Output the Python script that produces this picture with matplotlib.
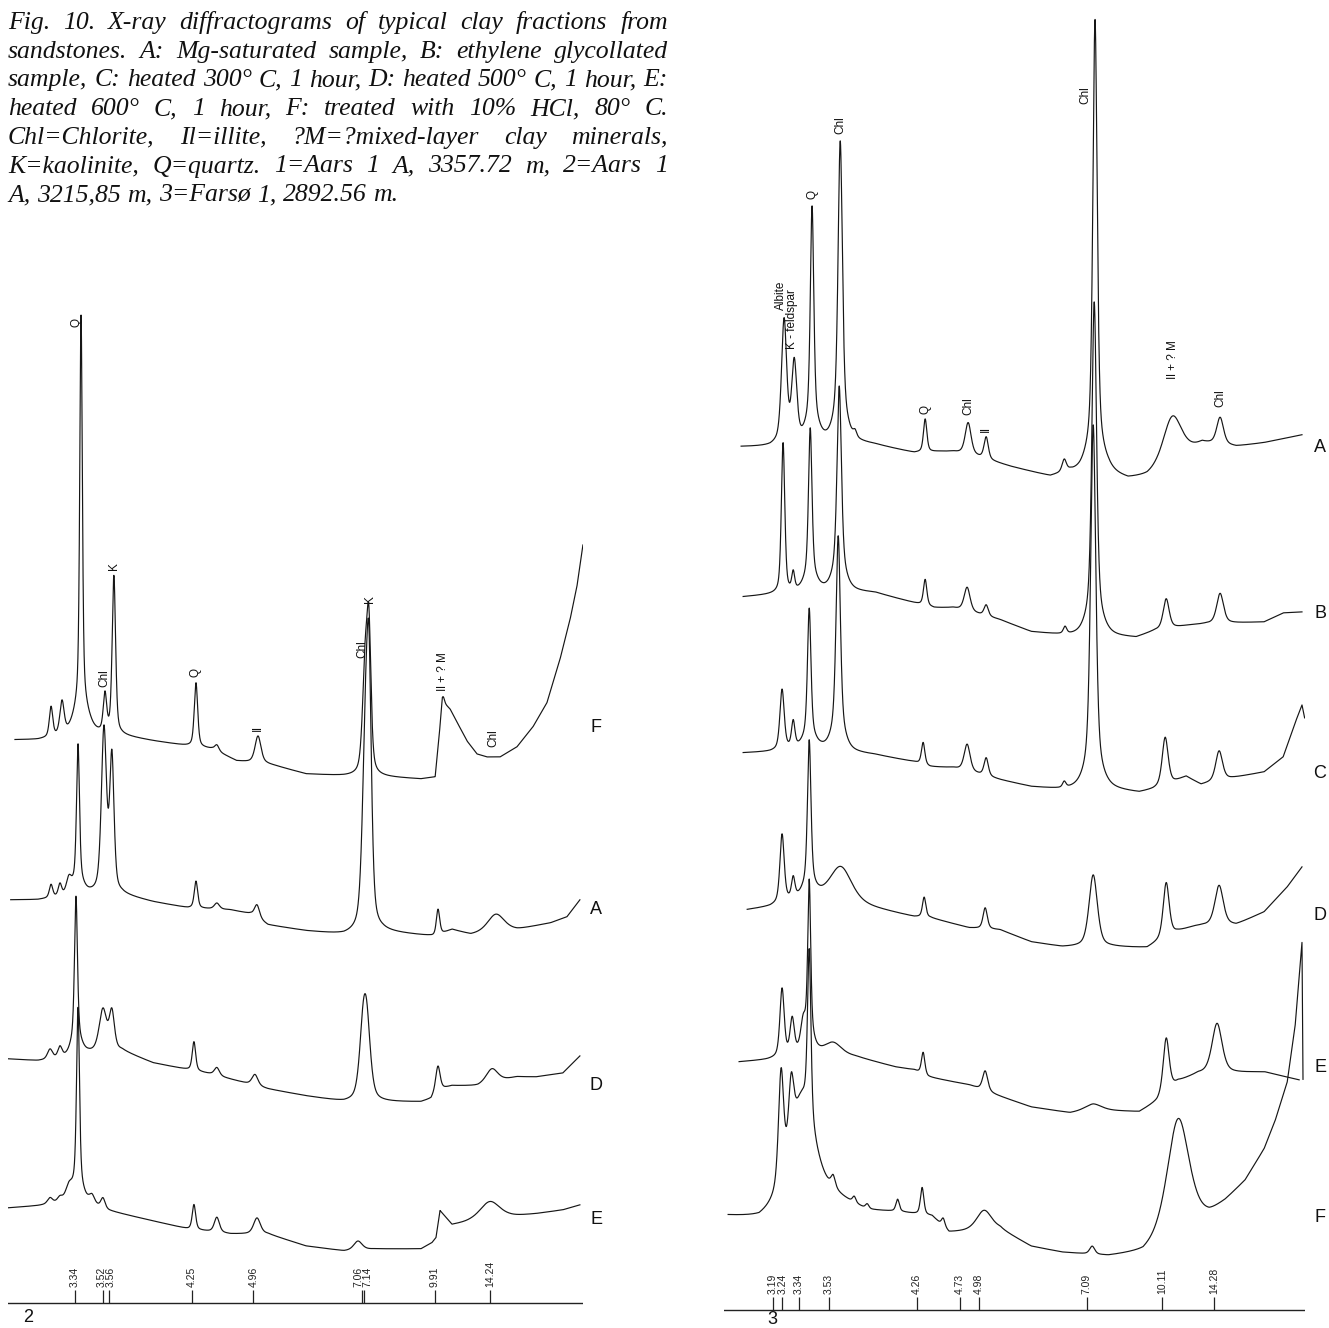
import numpy as np
import matplotlib.pyplot as plt

plt.rcParams['font.family'] = ['Liberation Sans', 'DejaVu Sans']

W, H = 1329, 1328
LAMBDA = 1.5406          # Cu K-alpha, Angstrom
PX_PER_DEG = 20.27       # chart scale of the recorder trace


def tth(d):
    return 2 * np.degrees(np.arcsin(LAMBDA / (2 * np.asarray(d))))


# ---------------- data (2-theta in degrees, intensities in chart units) ----------------
caption = [
    "Fig. 10. X-ray diffractograms of typical clay fractions from",
    "sandstones. A: Mg-saturated sample, B: ethylene glycollated",
    "sample, C: heated 300° C, 1 hour, D: heated 500° C, 1 hour, E:",
    "heated 600° C, 1 hour, F: treated with 10% HCl, 80° C.",
    "Chl=Chlorite, Il=illite, ?M=?mixed-layer clay minerals,",
    "K=kaolinite, Q=quartz. 1=Aars 1 A, 3357.72 m, 2=Aars 1",
    "A, 3215,85 m, 3=Farsø 1, 2892.56 m.",
]

ticks_2 = [3.34, 3.52, 3.56, 4.25, 4.96, 7.06, 7.14, 9.91, 14.24]
ticks_3 = [3.19, 3.24, 3.34, 3.53, 4.26, 4.73, 4.98, 7.09, 10.11, 14.28]

# sample 2 (Aars 1 A, 3215.85 m): scan range, background, peaks (pos, height, fwhm)
s2_F_range = (29.63, 1.61)
s2_F_bg = [(29.63, 0), (28.5, 0), (25.9, 5), (24.35, 4), (22.82, -1), (21.1, -6), (19.9, -9),
           (18.7, -21), (17.2, -24), (16.75, -26), (15.27, -34), (13.4, -36), (11.48, -37),
           (9.6, -39), (8.9, -37), (8.72, 0), (8.55, 38), (8.17, 31), (7.33, -1), (6.84, -14),
           (6.35, -17), (5.70, -17), (4.87, -7), (4.08, 13), (3.39, 37), (2.75, 80),
           (2.25, 120), (1.91, 153), (1.61, 195)]
s2_F_peaks = [(27.85, 30, 0.20), (27.31, 33, 0.25), (26.37, 385, 0.15), (26.37, 35, 0.79),
              (25.19, 38, 0.20), (24.75, 158, 0.20), (20.70, 64, 0.20), (19.67, 6, 0.25),
              (17.64, 27, 0.35), (12.36, 100, 0.30), (12.17, 135, 0.25), (8.50, 6, 0.15)]

s2_A_range = (29.84, 1.76)
s2_A_bg = [(29.84, 0), (28.5, 0), (25.9, 5), (24.35, 5), (22.82, -2), (21.1, -8), (19.0, -10),
           (18.0, -14), (17.15, -25), (15.27, -31), (13.4, -35), (11.48, -32), (9.21, -36),
           (8.9, -37), (8.07, -30), (7.14, -35), (4.87, -30), (3.2, -23), (2.4, -17), (1.76, 0)]
s2_A_peaks = [(27.85, 13, 0.20), (27.41, 12, 0.20), (26.97, 15, 0.30), (26.52, 135, 0.17),
              (26.52, 15, 0.59), (25.24, 163, 0.30), (24.85, 134, 0.25), (20.70, 27, 0.20),
              (19.67, 6, 0.30), (17.69, 13, 0.30), (12.36, 150, 0.35), (12.17, 240, 0.30),
              (8.76, 26, 0.20), (5.90, 18, 0.99)]

s2_D_range = (29.98, 1.76)
s2_D_bg = [(29.98, 0), (28.5, -2), (27.0, 0), (26.0, 5), (24.35, 8), (22.82, -4), (21.29, -10),
           (20.0, -15), (18.09, -25), (17.15, -30), (15.27, -37), (13.4, -43), (11.48, -43),
           (9.6, -43), (9.1, -40), (8.86, -32), (8.07, -27), (6.79, -27), (4.87, -18),
           (3.93, -18), (2.6, -14), (1.76, 3)]
s2_D_peaks = [(27.90, 10, 0.30), (27.41, 11, 0.25), (26.62, 140, 0.17), (26.62, 20, 0.59),
              (25.29, 42, 0.44), (24.85, 38, 0.30), (20.80, 29, 0.20), (19.67, 8, 0.30),
              (17.79, 11, 0.35), (12.45, 62, 0.44), (12.27, 62, 0.44), (8.76, 24, 0.25),
              (6.10, 14, 0.69)]

s2_E_range = (29.98, 1.76)
s2_E_bg = [(29.98, 0), (28.5, 2), (27.5, 4), (26.0, 4), (25.0, -3), (22.82, -13), (21.1, -21),
           (19.0, -26), (17.15, -26), (15.27, -38), (13.4, -43), (11.87, -41), (9.6, -41),
           (9.06, -35), (8.86, -30), (8.66, -3), (8.07, -17), (7.14, -14), (5.26, -9),
           (3.93, -6), (2.6, -2), (1.76, 3)]
s2_E_peaks = [(27.90, 6, 0.30), (27.41, 5, 0.30), (26.97, 14, 0.40), (26.52, 175, 0.17),
              (26.52, 20, 0.59), (25.83, 8, 0.30), (25.29, 10, 0.25), (20.80, 25, 0.20),
              (19.67, 15, 0.30), (17.69, 16, 0.40), (12.71, 9, 0.49), (6.20, 18, 1.18)]

# sample 3 (Farso 1, 2892.56 m)
s3_A_range = (29.52, 1.85)
s3_A_bg = [(29.52, 0), (28.09, 0), (27.84, 1), (26.3, 2), (25.47, 3), (24.24, 5), (22.91, 2),
           (20.98, -6), (19.85, -5), (19.06, -5), (17.9, -10), (16.20, -20), (14.27, -30),
           (13.29, -26), (12.8, -28), (11.41, -28), (10.43, -33), (9.49, -30), (8.9, -24),
           (6.78, 3), (5.10, 0), (3.72, 4), (1.85, 12)]
s3_A_peaks = [(27.40, 123, 0.30), (26.90, 79, 0.30), (26.02, 210, 0.20), (26.02, 25, 0.69),
              (24.63, 272, 0.25), (24.63, 28, 0.69), (23.90, 6, 0.20), (20.44, 33, 0.20),
              (18.32, 32, 0.35), (17.43, 22, 0.25), (13.58, 12, 0.25), (12.06, 425, 0.25),
              (12.06, 30, 0.99), (8.25, 46, 1.09), (5.89, 27, 0.40)]

s3_B_range = (29.42, 1.85)
s3_B_bg = [(29.42, 0), (28.09, 2), (27.2, 3), (25.52, 5), (24.04, 5), (22.91, 4), (20.98, -6),
           (20.0, -11), (19.06, -11), (16.74, -23), (15.21, -35), (13.88, -38), (12.8, -40),
           (11.41, -40), (10.03, -41), (9.10, -34), (7.57, -29), (6.63, -27), (5.10, -26),
           (3.72, -25), (2.78, -16), (1.85, -15)]
s3_B_peaks = [(27.45, 150, 0.20), (26.95, 18, 0.17), (26.11, 145, 0.20), (26.11, 18, 0.69),
              (24.68, 180, 0.25), (24.68, 25, 0.69), (20.44, 26, 0.20), (18.37, 24, 0.35),
              (17.43, 11, 0.25), (13.54, 7, 0.20), (12.10, 310, 0.27), (12.10, 25, 0.89),
              (8.55, 30, 0.35), (5.89, 30, 0.40)]

s3_C_range = (29.42, 1.72)
s3_C_bg = [(29.42, 0), (28.09, 1), (27.2, 3), (25.57, 3), (24.0, 0), (22.91, -2), (20.98, -9),
           (20.2, -14), (19.06, -15), (16.74, -27), (15.21, -34), (13.68, -37), (11.41, -37),
           (9.88, -40), (9.2, -37), (8.2, -30), (7.57, -24), (6.83, -32), (5.25, -25),
           (3.72, -19), (2.78, -4), (2.19, 30), (1.85, 48), (1.72, 35)]
s3_C_peaks = [(27.50, 60, 0.25), (26.95, 26, 0.20), (26.16, 125, 0.20), (26.16, 15, 0.69),
              (24.73, 190, 0.25), (24.73, 25, 0.69), (20.54, 22, 0.20), (18.37, 27, 0.35),
              (17.43, 18, 0.25), (13.58, 6, 0.20), (12.15, 340, 0.30), (12.15, 25, 0.89),
              (8.60, 48, 0.35), (5.94, 30, 0.40)]

s3_D_range = (29.22, 1.85)
s3_D_bg = [(29.22, 0), (28.09, 3), (27.2, 8), (26.5, 12), (25.67, 12), (23.3, 3), (20.98, -7),
           (20.19, -8), (18.27, -18), (16.74, -20), (15.21, -32), (13.68, -37), (11.22, -37),
           (9.49, -38), (8.0, -22), (7.2, -17), (6.83, -16), (5.10, -15), (3.72, -2),
           (2.58, 23), (1.85, 43)]
s3_D_peaks = [(27.50, 68, 0.25), (26.95, 20, 0.20), (26.16, 140, 0.20), (26.16, 15, 0.59),
              (24.60, 35, 1.28), (20.49, 20, 0.20), (17.48, 21, 0.25), (12.15, 72, 0.49),
              (8.55, 55, 0.35), (5.94, 40, 0.49)]

s3_E_range = (29.62, 1.99)
s3_E_bg = [(29.62, 0), (28.24, 2), (27.5, 4), (26.5, 8), (25.67, 8), (23.85, 5), (21.92, -5),
           (20.98, -8), (20.29, -15), (18.27, -23), (16.94, -33), (15.21, -45), (13.29, -51),
           (12.15, -48), (9.88, -50), (9.0, -40), (7.96, -20), (6.98, -12), (5.25, -11),
           (3.72, -10), (1.99, -18)]
s3_E_peaks = [(27.50, 68, 0.25), (27.00, 35, 0.25), (26.46, 25, 0.30), (26.16, 150, 0.17),
              (26.16, 20, 0.49), (24.98, 12, 0.99), (20.54, 22, 0.20), (17.48, 20, 0.30),
              (12.15, 6, 0.99), (8.55, 55, 0.35), (6.04, 50, 0.59)]

# the F scan ends with the pen dropping back at the low-angle limit
s3_F_range = (30.16, 1.80)
s3_F_bg = [(30.16, 0), (28.63, -3), (27.9, 3), (25.77, 10), (24.98, 18), (23.94, 10), (23.30, 5),
           (21.72, 4), (20.10, 0), (19.26, -16), (16.74, -13), (15.21, -30), (13.68, -36),
           (11.41, -40), (9.69, -37), (9.0, -28), (6.43, 0), (5.64, 14), (4.66, 35), (3.72, 67),
           (3.18, 95), (2.58, 134), (2.19, 190), (1.85, 274), (1.80, 137)]
s3_F_peaks = [(26.50, 110, 1.48), (27.55, 110, 0.30), (27.05, 60, 0.30), (26.16, 165, 0.20),
              (24.98, 10, 0.25), (23.94, 6, 0.20), (23.30, 5, 0.20), (21.80, 12, 0.20),
              (20.59, 27, 0.20), (19.55, 8, 0.20), (17.53, 20, 0.89), (12.20, 8, 0.30),
              (7.96, 115, 1.28)]

# mineral labels: (trace, text, label position, peak it belongs to, gap above peak)
labels_2 = [('F', 'Q', 26.60, 26.37, -12), ('F', 'Chl', 25.24, 25.19, 4), ('F', 'K', 24.75, 24.75, 5),
            ('F', 'Q', 20.70, 20.70, 6), ('F', 'Il', 17.64, 17.64, 5), ('F', 'Chl', 12.51, 12.17, -52),
            ('F', 'K', 12.12, 12.17, 3), ('F', 'Il + ? M', 8.52, 8.52, 6), ('F', 'Chl', 6.05, 6.05, 10)]
labels_3 = [('A', 'Albite', 27.55, 27.40, 8), ('A', 'K - feldspar', 27.00, 26.90, 8),
            ('A', 'Q', 26.02, 26.02, 7), ('A', 'Chl', 24.63, 24.63, 7), ('A', 'Q', 20.44, 20.44, 5),
            ('A', 'Chl', 18.32, 18.32, 8), ('A', 'Il', 17.43, 17.43, 5), ('A', 'Chl', 12.55, 12.06, -85),
            ('A', 'Il + ? M', 8.20, 8.25, 37), ('A', 'Chl', 5.89, 5.89, 10)]

# ---------------- layout ----------------
panel_2 = dict(x0=8, x1=583, ref_px=75, ref_d=3.34, axis=25, number=('2', 28, 10), letter_x=596,
               offsets={'F': 588, 'A': 428, 'D': 269, 'E': 120},
               letters={'F': 600, 'A': 418, 'D': 243, 'E': 108})
panel_3 = dict(x0=724, x1=1305, ref_px=773, ref_d=3.19, axis=18, number=('3', 772, 8), letter_x=1320,
               offsets={'A': 881, 'B': 731, 'C': 575, 'D': 418, 'E': 266, 'F': 111},
               letters={'A': 880, 'B': 715, 'C': 555, 'D': 413, 'E': 261, 'F': 110})
TICK_LABEL_SEP = 9.5     # px, minimum spacing of rotated tick labels

traces_2 = {'F': (s2_F_range, s2_F_bg, s2_F_peaks), 'A': (s2_A_range, s2_A_bg, s2_A_peaks),
            'D': (s2_D_range, s2_D_bg, s2_D_peaks), 'E': (s2_E_range, s2_E_bg, s2_E_peaks)}
traces_3 = {'A': (s3_A_range, s3_A_bg, s3_A_peaks), 'B': (s3_B_range, s3_B_bg, s3_B_peaks),
            'C': (s3_C_range, s3_C_bg, s3_C_peaks), 'D': (s3_D_range, s3_D_bg, s3_D_peaks),
            'E': (s3_E_range, s3_E_bg, s3_E_peaks), 'F': (s3_F_range, s3_F_bg, s3_F_peaks)}


def pseudo_voigt(x, c, h, w):
    z = (x - c) / w
    return h * (0.5 * np.exp(-4 * np.log(2) * z ** 2) + 0.5 / (1 + 4 * z ** 2))


def profile(x, bg, peaks):
    bx, by = np.array(sorted(bg)).T
    y = np.interp(x, bx, by)
    for c, h, w in peaks:
        y = y + pseudo_voigt(x, c, h, w)
    return y


def spread(pos, sep):
    # push crowded tick labels apart (positions in decreasing 2-theta order)
    pos = list(pos)
    for _ in range(30):
        for i in range(len(pos) - 1):
            gap = pos[i] - pos[i + 1]
            if gap < sep:
                pos[i] += (sep - gap) / 2
                pos[i + 1] -= (sep - gap) / 2
    return pos


fig = plt.figure(figsize=(W / 100, H / 100), dpi=100)
fig.patch.set_facecolor('white')


def draw_panel(p, traces, ticks, labels):
    t0 = tth(p['ref_d']) + (p['ref_px'] - p['x0']) / PX_PER_DEG
    t1 = tth(p['ref_d']) - (p['x1'] - p['ref_px']) / PX_PER_DEG
    ax = fig.add_axes([p['x0'] / W, 0, (p['x1'] - p['x0']) / W, 1])
    ax.set_xlim(t0, t1)
    ax.set_ylim(0, H)
    ax.axis('off')

    for key, (rng, bg, peaks) in traces.items():
        x = np.linspace(rng[0], rng[1], 9000)
        ax.plot(x, p['offsets'][key] + profile(x, bg, peaks), color='#161616', lw=0.85)
        fig.text(p['letter_x'] / W, p['letters'][key] / H, key, ha='center', va='center',
                 fontsize=13, color='#111111')

    for key, text, pos, peak, gap in labels:
        rng, bg, peaks = traces[key]
        top = p['offsets'][key] + profile(np.array([peak]), bg, peaks)[0]
        ax.text(pos, top + gap, text, rotation=90, ha='center', va='bottom',
                fontsize=8.5, color='#111111')

    ax.axhline(p['axis'], color='#222222', lw=1.0)
    tpos = tth(ticks)
    ax.vlines(tpos, p['axis'], p['axis'] + 13, color='#222222', lw=0.9)
    for t, d in zip(spread(tpos, TICK_LABEL_SEP / PX_PER_DEG), ticks):
        ax.text(t, p['axis'] + 16, f'{d:.2f}', rotation=90, ha='center', va='bottom',
                fontsize=7.5, color='#222222')
    num, nx, ny = p['number']
    fig.text(nx / W, ny / H, num, ha='center', va='center', fontsize=13, color='#111111')


draw_panel(panel_2, traces_2, ticks_2, labels_2)
draw_panel(panel_3, traces_3, ticks_3, labels_3)

# justified italic caption
cap_font = dict(family='Liberation Serif', style='italic', color='#111111')
renderer = fig.canvas.get_renderer()


def text_width(s, size):
    t = fig.text(0, 0, s, size=size, **cap_font)
    w = t.get_window_extent(renderer).width
    t.remove()
    return w


size = 18
size *= 652 / max(text_width(line, size) for line in caption[:-1])
space = text_width('a a', size) - text_width('aa', size)
for i, line in enumerate(caption):
    words = line.split(' ')
    widths = [text_width(wd, size) for wd in words]
    if i < len(caption) - 1:
        gap = (660 - sum(widths)) / (len(words) - 1)
    else:
        gap = space
    xpos = 8
    ybase = 29 + 28.7 * i
    for wd, wdt in zip(words, widths):
        fig.text(xpos / W, 1 - ybase / H, wd, size=size, va='baseline', ha='left', **cap_font)
        xpos += wdt + gap

fig.savefig('out.png', dpi=100, facecolor='white')
